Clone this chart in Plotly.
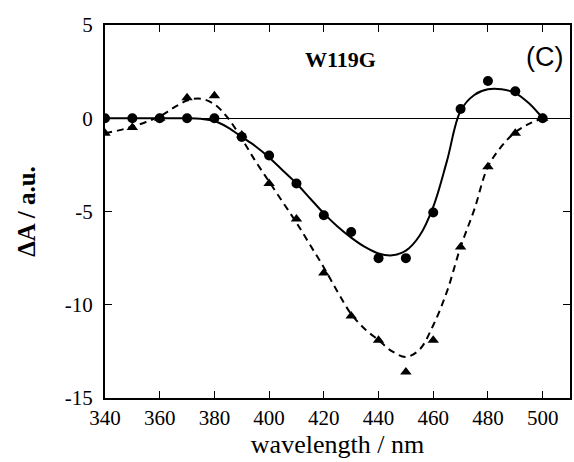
import plotly.graph_objects as go

# measured points
wl = [340, 350, 360, 370, 380, 390, 400, 410, 420, 430, 440, 450, 460, 470, 480, 490, 500]
circle_vals = [0, 0, 0, 0, 0, -1.0, -2.0, -3.5, -5.2, -6.1, -7.5, -7.5, -5.05, 0.5, 2.0, 1.45, 0]
triangle_vals = [-0.8, -0.5, 0, 1.1, 1.2, -0.9, -3.5, -5.4, -8.3, -10.6, -11.9, -13.6, -11.9, -6.9, -2.6, -0.8, 0]

# fitted curves
fit_wl = [340, 345, 350, 355, 360, 365, 370, 375, 380, 385, 390, 395, 400, 405, 410, 415, 420, 425,
          430, 435, 440, 445, 450, 455, 460, 465, 470, 475, 480, 485, 490, 495, 500]
fit_solid = [0, 0, 0, 0, 0, 0, 0, -0.03, -0.15, -0.5, -1.0, -1.5, -2.1, -2.8, -3.5, -4.3, -5.1, -5.8,
             -6.4, -6.9, -7.25, -7.35, -7.1, -6.3, -4.75, -2.3, 0.4, 1.25, 1.55, 1.55, 1.35, 0.8, 0]
fit_dashed = [-0.8, -0.65, -0.45, -0.2, 0.1, 0.55, 0.95, 1.05, 0.75, 0.0, -1.1, -2.3, -3.4, -4.5, -5.6,
              -6.8, -8.0, -9.3, -10.5, -11.3, -11.9, -12.5, -12.8, -12.4, -11.1, -9.3, -6.9, -4.9,
              -2.6, -1.5, -0.75, -0.3, 0]

x_ticks = [340, 360, 380, 400, 420, 440, 460, 480, 500]
y_ticks = [5, 0, -5, -10, -15]
y_ticktext = ["5", "0", "-5", "-10", "-15"]

serif = "Liberation Serif"

fig = go.Figure()
fig.add_trace(go.Scatter(x=fit_wl, y=fit_solid, mode="lines", line=dict(color="black", width=2, shape="spline"),
                         showlegend=False, hoverinfo="skip"))
fig.add_trace(go.Scatter(x=fit_wl, y=fit_dashed, mode="lines",
                         line=dict(color="black", width=2, dash="7px,5px", shape="spline"),
                         showlegend=False, hoverinfo="skip"))
fig.add_trace(go.Scatter(x=wl, y=circle_vals, mode="markers",
                         marker=dict(symbol="circle", size=10, color="black"), showlegend=False))
fig.add_trace(go.Scatter(x=wl, y=triangle_vals, mode="markers",
                         marker=dict(symbol="triangle-up", size=10, color="black"), showlegend=False))

fig.add_annotation(x=426, y=3.15, xref="x", yref="y", text="<b>W119G</b>", showarrow=False,
                   font=dict(family=serif, size=22, color="black"))
fig.add_annotation(x=500.7, y=3.3, xref="x", yref="y", text="(C)", showarrow=False, xanchor="center",
                   font=dict(family="Liberation Sans", size=27, color="black"))

fig.update_layout(
    width=574, height=462,
    margin=dict(l=105, r=2, t=25, b=64),
    paper_bgcolor="white", plot_bgcolor="white",
    font=dict(family=serif, color="black"),
    xaxis=dict(range=[340, 510], tickvals=x_ticks, ticks="inside", ticklen=7, tickwidth=1,
               tickcolor="black", showline=True, linecolor="black", linewidth=2, mirror="ticks",
               showgrid=False, zeroline=False, tickfont=dict(family=serif, size=21, color="black"),
               title=dict(text="wavelength / nm", font=dict(family=serif, size=26, color="black"), standoff=5)),
    yaxis=dict(range=[-15, 5], tickvals=y_ticks, ticktext=y_ticktext, ticks="inside", ticklen=7, tickwidth=1,
               tickcolor="black", showline=True, linecolor="black", linewidth=2, mirror="ticks",
               showgrid=False, zeroline=True, zerolinecolor="black", zerolinewidth=1,
               tickfont=dict(family=serif, size=21, color="black"), ticklabelstandoff=6,
               title=dict(text="<b>ΔA / a.u.</b>", font=dict(family=serif, size=25, color="black"), standoff=22)),
)

fig.write_html("out.html")
